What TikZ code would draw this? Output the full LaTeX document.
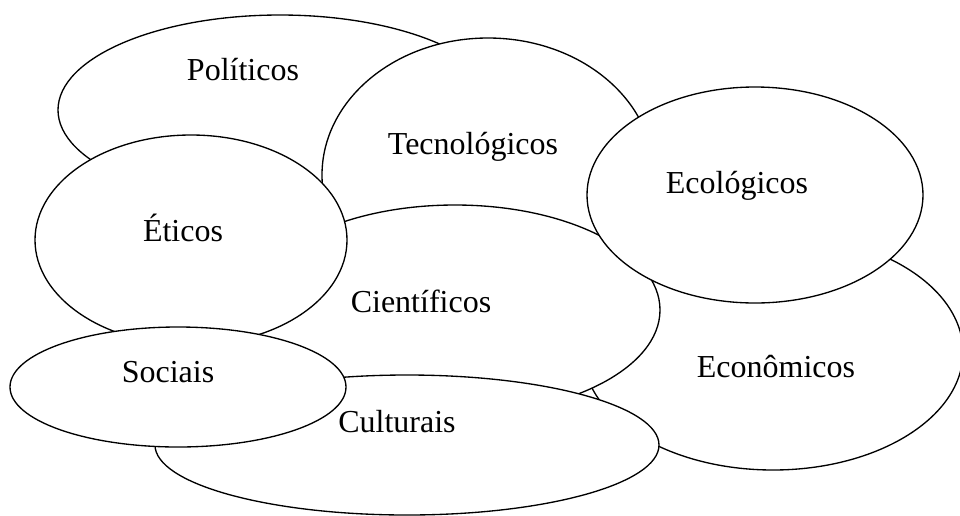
\documentclass[tikz,border=0pt]{standalone}
\usepackage{fontspec}
\setmainfont{Liberation Serif}
\usetikzlibrary{calc}

\begin{document}
\begin{tikzpicture}[%
  x=0.75pt,
  y=-0.75pt,
  oval/.style={draw=black, fill=white, line width=1pt},
  lbl/.style={anchor=base, inner sep=0pt, font=\fontsize{24}{28}\selectfont}
]

  \useasboundingbox (0,0) rectangle (960,515);

  \coordinate (pol) at (280,110);
  \coordinate (tec) at (488,175);
  \coordinate (eco) at (773,352);
  \coordinate (cie) at (455,310);
  \coordinate (ecl) at (755,195);
  \coordinate (eti) at (191,240);
  \coordinate (cul) at (407,445);
  \coordinate (soc) at (178,387);

  \draw[oval] (pol) ellipse [x radius=222, y radius=95];
  \node[lbl] (Politicos) at (243,80) {Políticos};

  \draw[oval] (tec) ellipse [x radius=166, y radius=137];
  \node[lbl] (Tecnologicos) at (473,154) {Tecnológicos};

  \draw[oval] (eco) ellipse [x radius=190, y radius=118];
  \node[lbl] (Economicos) at (776,377) {Econômicos};

  \draw[oval] (cie) ellipse [x radius=205, y radius=105];
  \node[lbl] (Cientificos) at (421,312) {Científicos};

  \draw[oval] (ecl) ellipse [x radius=168, y radius=108];
  \node[lbl] (Ecologicos) at (737,193) {Ecológicos};

  \draw[oval] (eti) ellipse [x radius=156, y radius=105];
  \node[lbl] (Eticos) at (183,241) {Éticos};

  \draw[oval] (cul) ellipse [x radius=252, y radius=70];
  \node[lbl] (Culturais) at (397,432) {Culturais};

  \draw[oval] (soc) ellipse [x radius=168, y radius=60];
  \node[lbl] (Sociais) at (168,382) {Sociais};

\end{tikzpicture}
\end{document}
